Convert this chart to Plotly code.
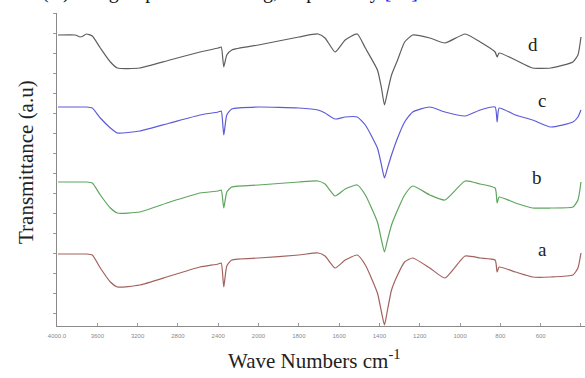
import plotly.graph_objects as go

# Wavenumbers (cm-1) shared by all spectra
wavenumbers = [3990, 3820, 3770, 3740, 3710, 3650, 3570, 3470, 3400, 3180,
               2880, 2580, 2400, 2370, 2345, 2315, 2265, 2000, 1800, 1705,
               1670, 1620, 1570, 1510, 1470, 1410, 1390, 1375, 1360, 1340,
               1310, 1275, 1235, 1150, 1075, 975, 900, 826, 816, 806,
               725, 640, 550, 440, 415, 400]

# Transmittance (a.u., stacked spectra)
spec_d = [291, 291, 289, 290, 292, 290, 278, 264, 258, 258,
          266, 274, 278, 279, 259, 271, 276, 281, 289, 292,
          288, 274, 286, 292, 278, 256, 238, 221, 234, 251,
          266, 284, 291, 288, 283, 292, 284, 274, 269, 273,
          266, 258, 258, 264, 271, 289]
spec_c = [219, 219, 219, 219, 219, 218, 208, 198, 193, 195,
          203, 211, 214, 215, 191, 211, 217, 219, 218, 216,
          213, 207, 209, 209, 201, 178, 161, 148, 158, 171,
          188, 204, 214, 219, 214, 210, 216, 219, 204, 218,
          211, 206, 199, 204, 209, 216]
spec_b = [144, 144, 144, 144, 144, 143, 131, 118, 113, 114,
          124, 133, 135, 136, 118, 134, 139, 141, 144, 145,
          142, 130, 137, 141, 131, 104, 86, 74, 86, 101,
          116, 131, 140, 131, 126, 145, 142, 138, 123, 129,
          123, 118, 118, 119, 126, 144]
spec_a = [72, 72, 72, 72, 72, 71, 58, 44, 39, 41,
          50, 59, 62, 63, 39, 60, 66, 68, 71, 73,
          70, 58, 66, 71, 61, 33, 14, 1, 16, 36,
          51, 64, 68, 58, 48, 70, 68, 66, 54, 59,
          54, 49, 49, 51, 58, 73]

series_names = ["d", "c", "b", "a"]
series_colors = ["#5e5e5e", "#5c5cd8", "#5da65d", "#a3625f"]

tick_wavenumbers = [4000, 3600, 3200, 2800, 2400, 2000, 1800, 1600, 1400, 1200, 1000, 800, 600, 400]
tick_labels = ["4000.0", "3600", "3200", "2800", "2400", "2000", "1800", "1600",
               "1400", "1200", "1000", "800", "600", "400"]


def axis_pos(w):
    # instrument-style split abscissa: 400 cm-1/div above 2000, 200 cm-1/div below
    if w >= 2000:
        return (4000 - w) / 400.0
    return 5 + (2000 - w) / 200.0


xs = [axis_pos(w) for w in wavenumbers]

fig = go.Figure()
for name, ys, col in zip(series_names, [spec_d, spec_c, spec_b, spec_a], series_colors):
    fig.add_trace(go.Scatter(x=xs, y=ys, mode="lines", name=name,
                             line=dict(color=col, width=1.2, shape="spline", smoothing=0.5),
                             showlegend=False))

serif = "Liberation Serif"
ann = []
label_pos = {"d": (0.9015, 0.898), "c": (0.9186, 0.722), "b": (0.909, 0.473), "a": (0.9186, 0.243)}
for name in series_names:
    px, py = label_pos[name]
    ann.append(dict(text=name, x=px, y=py, xref="paper", yref="paper", showarrow=False,
                    xanchor="center", yanchor="middle",
                    font=dict(family=serif, size=19, color="#222")))

ann.append(dict(text="Wave Numbers cm<sup>-1</sup>", x=0.487, y=-0.108, xref="paper", yref="paper",
                xanchor="center", yanchor="middle",
                showarrow=False, font=dict(family=serif, size=21, color="#222")))
ann.append(dict(text="Transmittance (a.u)", x=-0.0587, y=0.524, xref="paper", yref="paper",
                xanchor="center", yanchor="middle",
                showarrow=False, textangle=-90, font=dict(family=serif, size=21, color="#222")))
ann.append(dict(text='(O) and group and stretching, respectively <span style="color:#1515ff">[37]</span>',
                x=-0.032, y=1.0256, xref="paper", yref="paper", xanchor="left", yanchor="bottom",
                showarrow=False, font=dict(family=serif, size=20, color="#111")))

fig.update_layout(
    width=585, height=378,
    margin=dict(l=57, r=0, t=13, b=52),
    paper_bgcolor="white", plot_bgcolor="white",
    annotations=ann,
    xaxis=dict(range=[0, 13.1], showgrid=False, zeroline=False, showline=True,
               linecolor="#8a8a8a", linewidth=1,
               tickmode="array", tickvals=[axis_pos(w) for w in tick_wavenumbers], ticktext=tick_labels,
               ticks="inside", ticklen=3, tickcolor="#9a9a9a", ticklabelstandoff=4,
               tickfont=dict(family="Liberation Sans", size=6, color="#8a8a8a")),
    yaxis=dict(range=[0, 313], showgrid=False, zeroline=False, showline=True,
               linecolor="#8a8a8a", linewidth=1, tick0=13, dtick=20,
               ticks="outside", ticklen=3, tickcolor="#9a9a9a", showticklabels=False),
)

fig.write_html("out.html")
